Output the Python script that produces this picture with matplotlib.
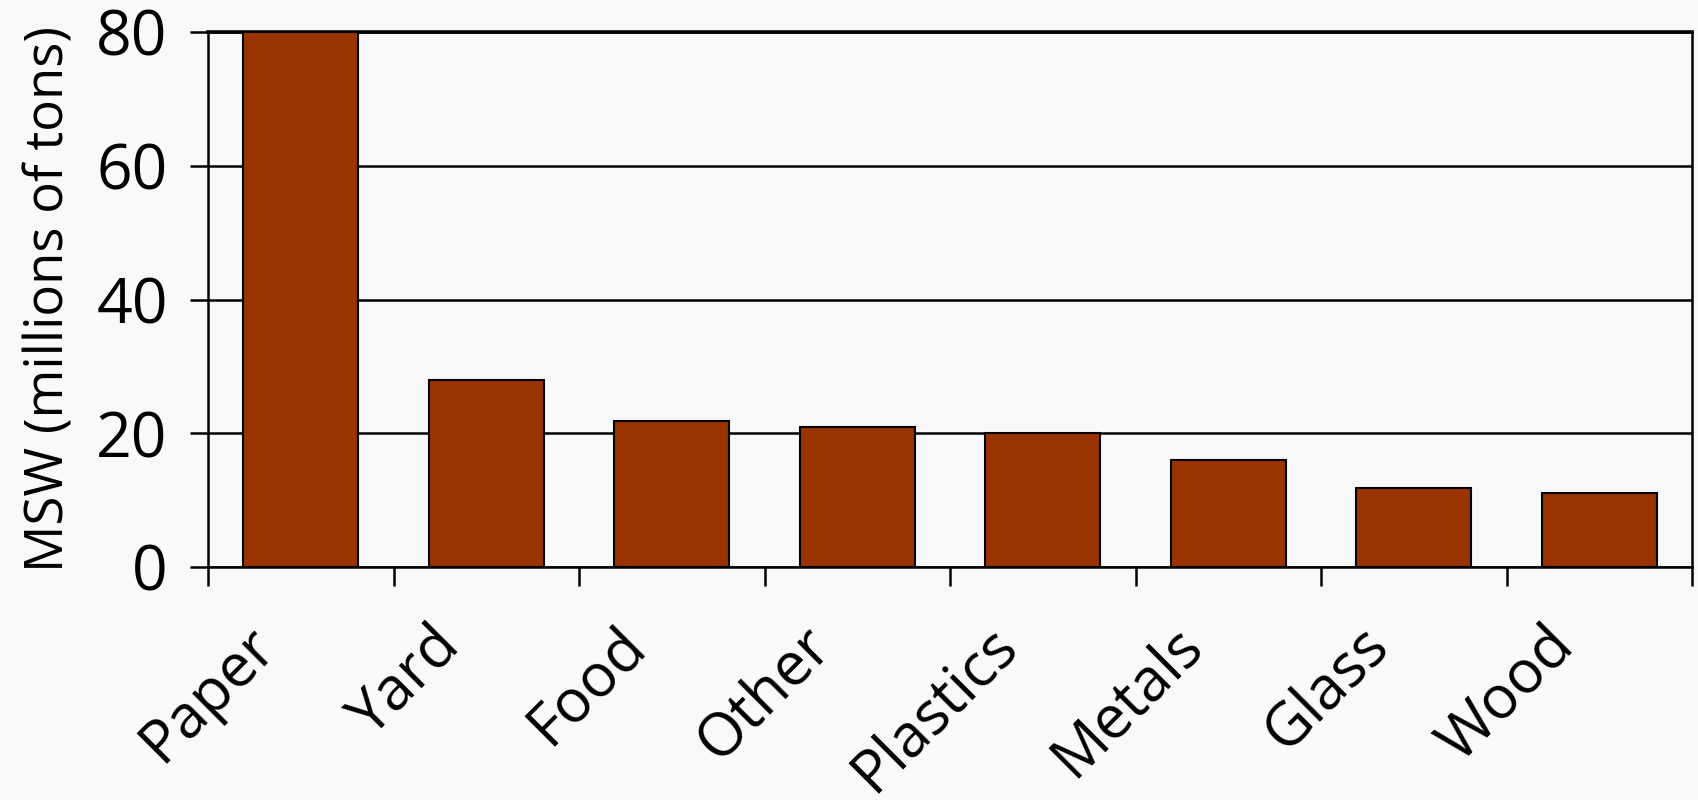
import matplotlib.pyplot as plt
import matplotlib.transforms as mtransforms
import numpy as np

# MSW generation by material, millions of tons
materials = ['Paper', 'Yard', 'Food', 'Other', 'Plastics', 'Metals', 'Glass', 'Wood']
msw_tons = [80, 28, 21.8, 21.0, 20.0, 16.0, 11.8, 11.0]
y_ticks = [0, 20, 40, 60, 80]

plt.rcParams['font.family'] = ['Open Sans', 'DejaVu Sans']
bg = '#f9f9f9'

fig = plt.figure(figsize=(16.98, 8), dpi=100, facecolor=bg)
ax = fig.add_axes([0.1225, 0.29125, 0.874, 0.66875], facecolor=bg)

x = np.arange(len(materials))
ax.bar(x, msw_tons, width=0.62, color='#993300', edgecolor='black', linewidth=1.5, zorder=3)

ax.set_xlim(-0.5, len(materials) - 0.5)
ax.set_ylim(0, 80)
ax.set_yticks(y_ticks)
ax.set_yticklabels([str(t) for t in y_ticks], fontsize=45)
ax.yaxis.grid(True, color='black', linewidth=1.8, zorder=1)
ax.tick_params(axis='y', length=13, width=1.8, pad=16)

# category labels at bar centers, tick marks at category boundaries
ax.set_xticks(x)
ax.set_xticklabels(materials, rotation=45, ha='right', va='bottom',
                   rotation_mode='anchor', fontsize=43)
ax.tick_params(axis='x', which='major', length=0, pad=44)
ax.set_xticks(np.arange(len(materials) + 1) - 0.5, minor=True)
ax.tick_params(axis='x', which='minor', length=14, width=1.8)

# nudge the slanted labels down and to the left
shift = mtransforms.ScaledTranslation(-0.14, -0.295, fig.dpi_scale_trans)
for lbl in ax.get_xticklabels():
    lbl.set_transform(lbl.get_transform() + shift)

for s in ax.spines.values():
    s.set_linewidth(1.8)
ax.spines['top'].set_linewidth(2.6)

ax.set_ylabel('MSW (millions of tons)', fontsize=38, labelpad=14)

fig.savefig('out.png', dpi=100, facecolor=bg)
